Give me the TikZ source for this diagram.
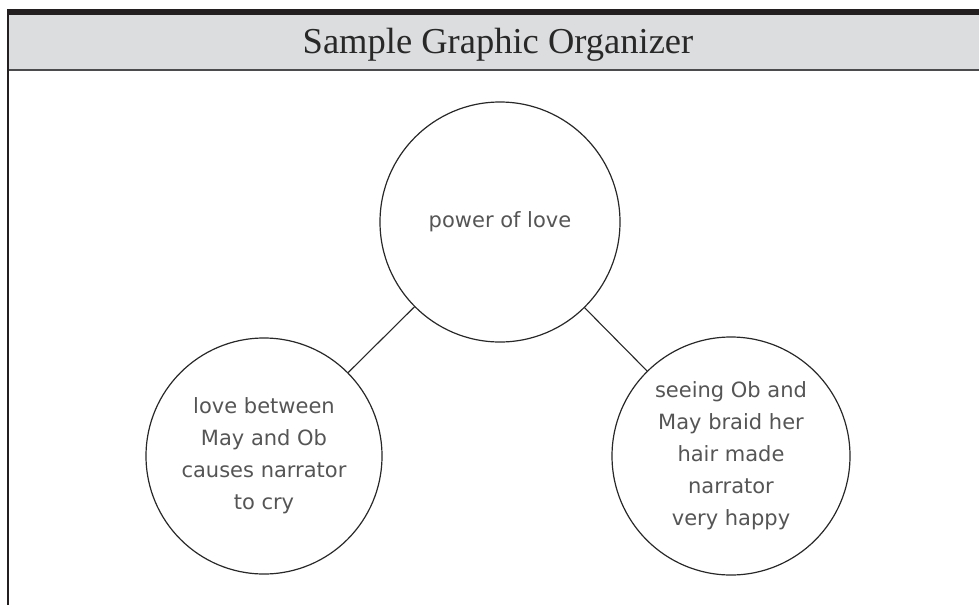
\documentclass[tikz,border=0pt]{standalone}
\usepackage{fontspec}
\usepackage{tikz}
\usetikzlibrary{positioning}
\newfontfamily\titlefont{Liberation Serif}
\newfontfamily\handfont{DejaVu Sans}
\definecolor{headerFill}{RGB}{220, 221, 223}
\definecolor{barColor}{RGB}{35, 31, 32}
\definecolor{ruleColor}{RGB}{75, 75, 77}
\definecolor{inkColor}{RGB}{40, 40, 40}
\definecolor{noteColor}{RGB}{85, 85, 85}
\tikzset{
    idea_circle/.style={
        circle,
        draw=inkColor,
        line width=1.2pt,
        text=noteColor,
        align=center,
        inner sep=0pt,
        font=\handfont\fontsize{21}{32}\selectfont
    },
    idea_link/.style={
        draw=inkColor,
        line width=1.1pt
    }
}

\begin{document}
\begin{tikzpicture}[x=1pt, y=-1pt]
    \useasboundingbox (0,0) rectangle (979,605);

    % header band
    \fill[headerFill] (8,14) rectangle (979,69);
    \fill[barColor] (7,9) rectangle (979,14.5);
    \draw[ruleColor, line width=2pt] (7,69.5) -- (979,69.5);
    \draw[barColor, line width=2pt] (8,9) -- (8,605);
    \node[font=\titlefont\fontsize{36.5}{40}\selectfont, text=inkColor, anchor=base] (title) at (498,53) {Sample Graphic Organizer};

    % circles
    \node[idea_circle, minimum size=240pt] (theme) at (500,222) {power of love};
    \node[idea_circle, minimum size=236pt] (lovecry) at (264,456) {love between\\May and Ob\\causes narrator\\to cry};
    \node[idea_circle, minimum size=238pt] (braid) at (731,456) {seeing Ob and\\May braid her\\hair made\\narrator\\very happy};

    \draw[idea_link] (theme) -- (lovecry);
    \draw[idea_link] (theme) -- (braid);
\end{tikzpicture}
\end{document}
